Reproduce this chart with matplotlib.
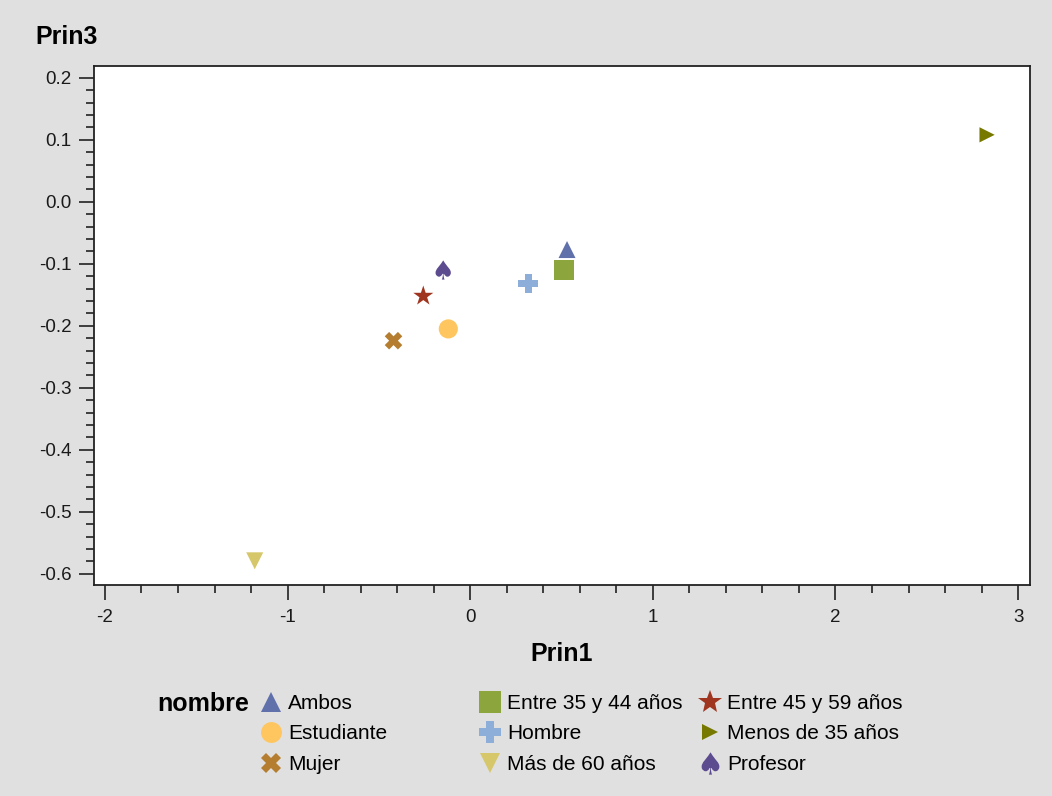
import numpy as np
import matplotlib.pyplot as plt
from matplotlib.lines import Line2D
from matplotlib.ticker import MultipleLocator, FormatStrFormatter

plt.rcParams['font.family'] = ['Liberation Sans', 'DejaVu Sans']
plt.rcParams['axes.unicode_minus'] = False

# component scores per group
nombres = ['Ambos', 'Estudiante', 'Mujer',
           'Entre 35 y 44 años', 'Hombre', 'Más de 60 años',
           'Entre 45 y 59 años', 'Menos de 35 años', 'Profesor']
prin1 = [0.53, -0.12, -0.42, 0.515, 0.318, -1.18, -0.257, 2.83, -0.148]
prin3 = [-0.077, -0.205, -0.224, -0.110, -0.132, -0.579, -0.152, 0.108, -0.110]

colores = ['#5f70ab', '#ffc55e', '#b47d2f', '#8ca53c', '#8daed9', '#d6c76a',
           '#a0351f', '#767800', '#5c4b8f']
marcadores = ['^', 'o', 'X', 's', 'P', 'v', '*', '>', r'$\spadesuit$']
tamanos = [150, 190, 160, 200, 200, 150, 230, 120, 190]
tam_leyenda = [15, 15, 14, 16, 16, 15, 18, 12, 16]

fig = plt.figure(figsize=(10.52, 7.96), dpi=100, facecolor='#e0e0e0')
ax = fig.add_axes([94/1052, 1-585/796, 936/1052, 519/796])
ax.set_facecolor('white')

for n, x, y, c, m, s in zip(nombres, prin1, prin3, colores, marcadores, tamanos):
    ax.scatter(x, y, marker=m, s=s, color=c, edgecolors='none', label=n, zorder=3)

ax.set_xlim(-2.06, 3.065)
ax.set_ylim(-0.618, 0.219)
ax.xaxis.set_major_locator(MultipleLocator(1))
ax.xaxis.set_minor_locator(MultipleLocator(0.2))
ax.yaxis.set_major_locator(MultipleLocator(0.1))
ax.yaxis.set_minor_locator(MultipleLocator(0.02))
ax.yaxis.set_major_formatter(FormatStrFormatter('%.1f'))
ax.tick_params(which='major', length=11, width=1.2, labelsize=13.5, color='#222222',
               labelcolor='#1a1a1a')
ax.tick_params(axis='y', which='major', pad=5)
ax.tick_params(axis='x', which='major', pad=6)
ax.tick_params(which='minor', length=5.5, width=1.2, color='#222222')
for sp in ax.spines.values():
    sp.set_linewidth(1.3)
    sp.set_color('#222222')

ax.set_xlabel('Prin1', fontsize=18, fontweight='bold', labelpad=12)
fig.text(35/1052, 1-37/796, 'Prin3', fontsize=18, fontweight='bold', va='center', ha='left')

# legend: "nombre" title, then three fixed-width columns
fig.text(157/1052, 1-704/796, 'nombre', fontsize=18, fontweight='bold', va='center', ha='left')
col_x = [258, 477, 697]
for k in range(3):
    idx = range(3*k, 3*k+3)
    handles = [Line2D([], [], ls='none', marker=marcadores[i], color=colores[i],
                      markersize=tam_leyenda[i], markeredgewidth=0) for i in idx]
    fig.legend(handles, [nombres[i] for i in idx], loc='upper left',
               bbox_to_anchor=(col_x[k]/1052, 1-694/796), frameon=False,
               fontsize=15, handlelength=1.2, handletextpad=0.25,
               labelspacing=0.55, borderaxespad=0, borderpad=0)

fig.savefig('out.png', dpi=100, facecolor=fig.get_facecolor())
